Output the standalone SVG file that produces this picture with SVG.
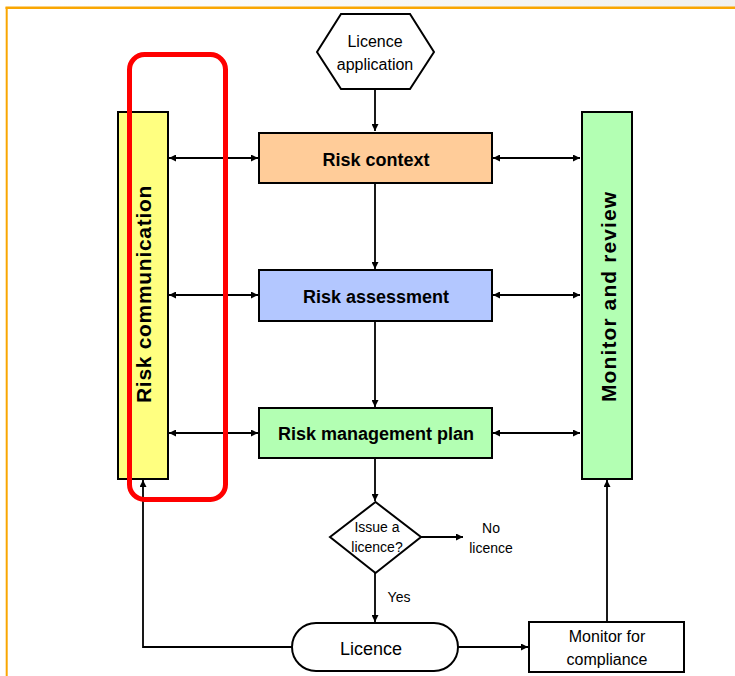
<svg xmlns="http://www.w3.org/2000/svg" width="735" height="676" viewBox="0 0 735 676">
<defs>
<linearGradient id="topfade" x1="0" y1="0" x2="1" y2="0">
<stop offset="0" stop-color="#ffffff"/>
<stop offset="1" stop-color="#f1f1ef"/>
</linearGradient>
<marker id="ah" viewBox="0 0 10 10" refX="10" refY="5" markerWidth="8" markerHeight="7" markerUnits="userSpaceOnUse" orient="auto-start-reverse">
<path d="M0,0 L10,5 L0,10 z" fill="#000"/>
</marker>
<style>
.box{stroke:#000;stroke-width:2}
.lbl{font-family:"Liberation Sans",Arial,sans-serif;fill:#000;text-anchor:middle}
.b{font-weight:bold}
.side{font-family:"Liberation Sans",Arial,sans-serif;fill:#000;font-weight:bold;font-size:21px}
.conn{stroke:#000;stroke-width:1.8;fill:none}
</style>
</defs>
<rect x="0" y="0" width="735" height="7" fill="url(#topfade)"/>
<g id="frame">
<line x1="5.5" y1="7.8" x2="735" y2="7.8" stroke="#F9A602" stroke-width="2.4"/>
<line x1="6.7" y1="7" x2="6.7" y2="676" stroke="#F9A602" stroke-width="2"/>
</g>
<g id="connectors">
<line class="conn" x1="375" y1="88" x2="375" y2="131" marker-end="url(#ah)"/>
<line class="conn" x1="375" y1="183" x2="375" y2="269" marker-end="url(#ah)"/>
<line class="conn" x1="375" y1="321" x2="375" y2="407" marker-end="url(#ah)"/>
<line class="conn" x1="375" y1="458" x2="375" y2="501" marker-end="url(#ah)"/>
<line class="conn" x1="421" y1="537" x2="463" y2="537" marker-end="url(#ah)"/>
<line class="conn" x1="375" y1="573" x2="375" y2="622" marker-end="url(#ah)"/>
<line class="conn" x1="458" y1="647" x2="528" y2="647" marker-end="url(#ah)"/>
<line class="conn" x1="607" y1="622" x2="607" y2="480" marker-end="url(#ah)"/>
<polyline class="conn" points="292,647 143,647 143,480" marker-end="url(#ah)"/>
<line class="conn" x1="169" y1="158" x2="258" y2="158" marker-start="url(#ah)" marker-end="url(#ah)"/>
<line class="conn" x1="169" y1="295" x2="258" y2="295" marker-start="url(#ah)" marker-end="url(#ah)"/>
<line class="conn" x1="169" y1="433" x2="258" y2="433" marker-start="url(#ah)" marker-end="url(#ah)"/>
<line class="conn" x1="493" y1="158" x2="580" y2="158" marker-start="url(#ah)" marker-end="url(#ah)"/>
<line class="conn" x1="493" y1="295" x2="580" y2="295" marker-start="url(#ah)" marker-end="url(#ah)"/>
<line class="conn" x1="493" y1="433" x2="580" y2="433" marker-start="url(#ah)" marker-end="url(#ah)"/>
</g>
<g id="licence-application">
<polygon class="box" points="317,52 341,14 410,14 434,52 410,89 341,89" fill="#fff"/>
<text class="lbl" x="375" y="47" font-size="16">Licence</text>
<text class="lbl" x="375" y="70" font-size="16">application</text>
</g>
<g id="risk-context">
<rect class="box" x="259" y="133" width="233" height="50" fill="#FFCC99"/>
<text class="lbl b" x="376" y="166" font-size="18">Risk context</text>
</g>
<g id="risk-assessment">
<rect class="box" x="259" y="270" width="233" height="51" fill="#B3C7FF"/>
<text class="lbl b" x="376" y="303" font-size="18">Risk assessment</text>
</g>
<g id="risk-management-plan">
<rect class="box" x="259" y="408" width="233" height="50" fill="#B3FFB3"/>
<text class="lbl b" x="376" y="440" font-size="18">Risk management plan</text>
</g>
<g id="risk-communication">
<rect class="box" x="118" y="112" width="50" height="367" fill="#FFFF80"/>
<text class="side" transform="translate(151,403) rotate(-90)" x="0" y="0" letter-spacing="0.7">Risk communication</text>
</g>
<g id="monitor-review">
<rect class="box" x="582" y="112" width="50" height="367" fill="#B3FFB3"/>
<text class="side" transform="translate(616,402) rotate(-90)" x="0" y="0" letter-spacing="1.1">Monitor and review</text>
</g>
<g id="issue-decision">
<polygon class="box" points="330,537 375.5,502 421,537 375.5,573" fill="#fff"/>
<text class="lbl" x="377" y="532" font-size="14">Issue a</text>
<text class="lbl" x="377" y="552" font-size="14">licence?</text>
</g>
<g id="no-licence">
<text class="lbl" x="491" y="533" font-size="14">No</text>
<text class="lbl" x="491" y="553" font-size="14">licence</text>
</g>
<g id="yes-label">
<text class="lbl" x="399" y="602" font-size="14">Yes</text>
</g>
<g id="licence">
<rect class="box" x="292" y="623" width="166" height="48" rx="24" ry="24" fill="#fff"/>
<text class="lbl" x="371" y="655" font-size="18">Licence</text>
</g>
<g id="monitor-compliance">
<rect class="box" x="529" y="622" width="155" height="50" fill="#fff"/>
<text class="lbl" x="607" y="642" font-size="16">Monitor for</text>
<text class="lbl" x="607" y="665" font-size="16">compliance</text>
</g>
<g id="highlight">
<rect x="129.5" y="54.5" width="96" height="445" rx="15" ry="15" fill="none" stroke="#FF0000" stroke-width="5"/>
</g>
</svg>
